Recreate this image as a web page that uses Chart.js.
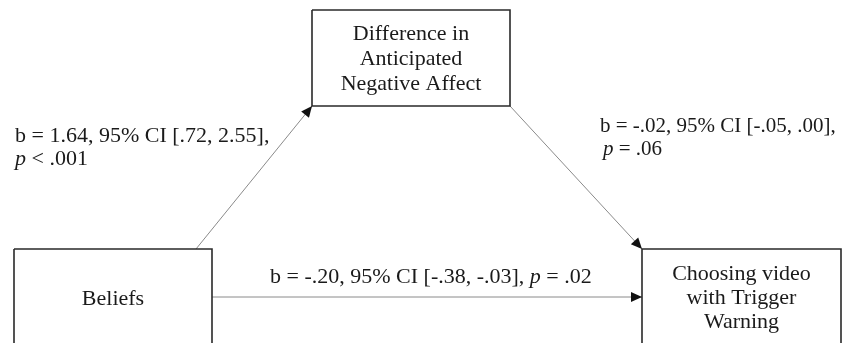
<!DOCTYPE html>
<html>
<head>
<meta charset="utf-8">
<script src="https://cdn.jsdelivr.net/npm/chart.js@4.4.1/dist/chart.umd.min.js"></script>
<style>
  html, body { margin: 0; padding: 0; background: #fff; }
</style>
</head>
<body>
<canvas id="chart" width="845" height="343"></canvas>
<script>
// mediation model: X = beliefs, M = anticipated affect, Y = choice
const nodeLines = [
  ['Beliefs'],
  ['Difference in', 'Anticipated', 'Negative Affect'],
  ['Choosing video', 'with Trigger', 'Warning'],
];
const pathNames = ['a', 'b', 'c'];
const coefB = [1.64, -0.02, -0.20];
const ciLower = [0.72, -0.05, -0.38];
const ciUpper = [2.55, 0.00, -0.03];
const pSign = ['<', '=', '='];
const pValue = [0.001, 0.06, 0.02];

// layout in pixel units of the 845x343 canvas (y grows downward)
const boxes = [
  { x0: 14, x1: 212, y0: 249, y1: 360, lineY: [305] },
  { x0: 312, x1: 510, y0: 10, y1: 106, lineY: [40, 65, 90] },
  { x0: 642, x1: 841, y0: 249, y1: 360, lineY: [280, 304, 328] },
];
const arrows = [
  { from: [196, 249], to: [312, 106] },
  { from: [510, 106], to: [642, 249] },
  { from: [212, 297], to: [642, 297] },
];
const labelPos = [
  { x: 15, y: [142, 165], indent: 0, size: 22 },
  { x: 600, y: [132, 155], indent: 3, size: 21 },
  { x: 270, y: [283], indent: 0, size: 22 },
];

const FONT = 'Liberation Serif, "Times New Roman", serif';
const SIZE = 22;

const fmt = (v, d) => {
  let s = Math.abs(v).toFixed(d).replace(/^0\./, '.');
  return (v < 0 ? '-' : '') + s;
};

const labelLines = (i) => {
  const first = `b = ${fmt(coefB[i], 2)}, 95% CI [${fmt(ciLower[i], 2)}, ${fmt(ciUpper[i], 2)}],`;
  const pPart = [{ t: 'p', it: true }, { t: ` ${pSign[i]} ${fmt(pValue[i], pValue[i] < 0.01 ? 3 : 2)}` }];
  if (labelPos[i].y.length === 1) return [[{ t: first + ' ' }].concat(pPart)];
  return [[{ t: first }], pPart];
};

const datasets = [];
boxes.forEach((b, i) => {
  datasets.push({
    label: nodeLines[i].join(' '),
    data: [
      { x: b.x0, y: b.y0 }, { x: b.x1, y: b.y0 },
      { x: b.x1, y: b.y1 }, { x: b.x0, y: b.y1 }, { x: b.x0, y: b.y0 },
    ],
    showLine: true,
    borderColor: '#2a2a2a',
    borderWidth: 1.6,
    pointRadius: 0,
    fill: false,
  });
});
arrows.forEach((a, i) => {
  datasets.push({
    label: 'path ' + pathNames[i],
    data: [{ x: a.from[0], y: a.from[1] }, { x: a.to[0], y: a.to[1] }],
    showLine: true,
    borderColor: '#8a8a8a',
    borderWidth: 1,
    pointRadius: 0,
    fill: false,
    arrow: true,
  });
});

const diagramText = {
  id: 'diagramText',
  afterDatasetsDraw(chart) {
    const ctx = chart.ctx;
    const xs = chart.scales.x, ys = chart.scales.y;

    // arrow heads at the end of each path
    chart.data.datasets.forEach((ds, di) => {
      if (!ds.arrow) return;
      const pts = chart.getDatasetMeta(di).data;
      const p0 = pts[pts.length - 2], p1 = pts[pts.length - 1];
      const ang = Math.atan2(p1.y - p0.y, p1.x - p0.x);
      const len = 11, half = 5;
      ctx.save();
      ctx.translate(p1.x, p1.y);
      ctx.rotate(ang);
      ctx.beginPath();
      ctx.moveTo(0, 0);
      ctx.lineTo(-len, -half);
      ctx.lineTo(-len, half);
      ctx.closePath();
      ctx.fillStyle = '#111';
      ctx.fill();
      ctx.restore();
    });

    ctx.save();
    ctx.fillStyle = '#1a1a1a';
    ctx.textBaseline = 'alphabetic';

    // node titles, centred in their boxes
    ctx.textAlign = 'center';
    ctx.font = `${SIZE}px ${FONT}`;
    boxes.forEach((b, i) => {
      const cx = xs.getPixelForValue((b.x0 + b.x1) / 2);
      nodeLines[i].forEach((line, li) => {
        ctx.fillText(line, cx, ys.getPixelForValue(b.lineY[li]));
      });
    });

    // path coefficients
    ctx.textAlign = 'left';
    pathNames.forEach((_, i) => {
      const pos = labelPos[i];
      labelLines(i).forEach((segs, li) => {
        let x = xs.getPixelForValue(pos.x + (li > 0 ? pos.indent : 0));
        const y = ys.getPixelForValue(pos.y[li]);
        segs.forEach(s => {
          ctx.font = `${s.it ? 'italic ' : ''}${pos.size}px ${FONT}`;
          ctx.fillText(s.t, x, y);
          x += ctx.measureText(s.t).width;
        });
      });
    });
    ctx.restore();
  },
};

new Chart(document.getElementById('chart').getContext('2d'), {
  type: 'scatter',
  data: { datasets },
  options: {
    responsive: false,
    animation: false,
    layout: { padding: 0 },
    plugins: { legend: { display: false }, tooltip: { enabled: false } },
    scales: {
      x: { type: 'linear', min: 0, max: 845, display: false },
      y: { type: 'linear', min: 0, max: 343, reverse: true, display: false },
    },
  },
  plugins: [diagramText],
});
</script>
</body>
</html>
